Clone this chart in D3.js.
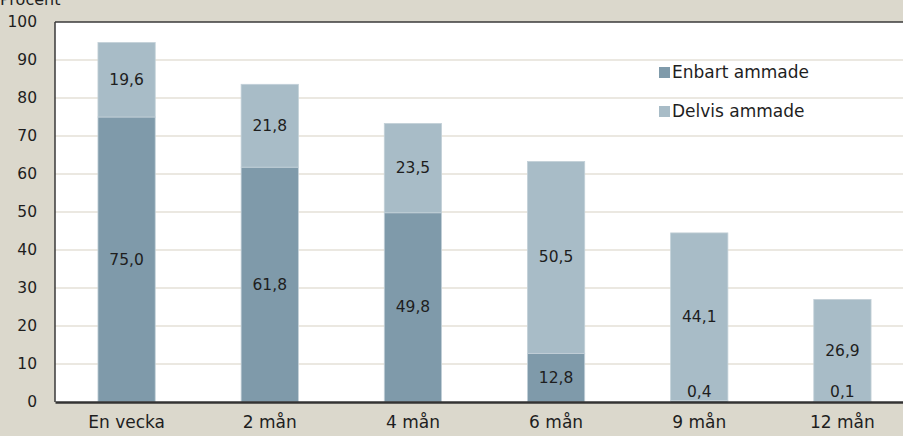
<!DOCTYPE html>
<html>
<head>
<meta charset="utf-8">
<script src="https://cdn.jsdelivr.net/npm/d3@7"></script>
<style>
  html, body { margin: 0; padding: 0; background: #DBD8CC; }
  svg { display: block; }
  text { font-family: "DejaVu Sans", sans-serif; fill: #1e1e1e; }
</style>
</head>
<body>
<svg id="chart" width="903" height="436"></svg>
<script>
// Andel ammade barn per ålder (procent)
const categories = ["En vecka", "2 mån", "4 mån", "6 mån", "9 mån", "12 mån"];
const enbart = [75.0, 61.8, 49.8, 12.8, 0.4, 0.1];
const delvis = [19.6, 21.8, 23.5, 50.5, 44.1, 26.9];
const seriesNames = ["Enbart ammade", "Delvis ammade"];
const seriesColors = ["#7F9AAA", "#A8BCC7"];
const yTicks = [0, 10, 20, 30, 40, 50, 60, 70, 80, 90, 100];

const svg = d3.select("#chart");
const W = 903, H = 436;
const m = { left: 55, top: 22, bottom: 34 };
const plotW = 859;            // the plot continues past the right edge of the view
const plotH = H - m.top - m.bottom;
const FONT = "'DejaVu Sans', sans-serif";

const rows = categories.map((c, i) => ({ cat: c, enbart: enbart[i], delvis: delvis[i] }));
const stacked = d3.stack().keys(["enbart", "delvis"])(rows);

const x = d3.scaleBand().domain(categories).range([m.left, m.left + plotW]).paddingInner(0.6).paddingOuter(0.3);
const y = d3.scaleLinear().domain([0, 100]).range([m.top + plotH, m.top]);

// plot area
svg.append("rect").attr("x", m.left).attr("y", m.top).attr("width", plotW).attr("height", plotH).attr("fill", "#fff");

// gridlines
svg.append("g").selectAll("line").data(yTicks.filter(t => t > 0 && t < 100)).join("line")
  .attr("x1", m.left).attr("x2", m.left + plotW)
  .attr("y1", d => y(d)).attr("y2", d => y(d))
  .attr("stroke", "#E4E1D7").attr("stroke-width", 1.5);

// bars
const layer = svg.append("g").selectAll("g").data(stacked).join("g")
  .attr("fill", (d, i) => seriesColors[i]);
layer.selectAll("rect").data(d => d).join("rect")
  .attr("x", d => x(d.data.cat))
  .attr("width", x.bandwidth())
  .attr("y", d => y(d[1]))
  .attr("height", d => y(d[0]) - y(d[1]))
  .attr("stroke", "#C3D0D8").attr("stroke-width", 0.8);

// value labels
const fmt = v => v.toFixed(1).replace(".", ",");
stacked.forEach(s => {
  svg.append("g").selectAll("text").data(s).join("text")
    .attr("x", d => x(d.data.cat) + x.bandwidth() / 2)
    .attr("y", d => Math.min((y(d[0]) + y(d[1])) / 2, y(0) - 10))
    .attr("text-anchor", "middle").attr("dominant-baseline", "central")
    .attr("font-size", 15.5)
    .text(d => fmt(d[1] - d[0]));
});

// frame: top and left borders
svg.append("line").attr("x1", m.left).attr("x2", W).attr("y1", m.top).attr("y2", m.top)
  .attr("stroke", "#3a3a3a").attr("stroke-width", 1.5);
svg.append("line").attr("x1", m.left).attr("x2", m.left).attr("y1", m.top).attr("y2", m.top + plotH)
  .attr("stroke", "#3a3a3a").attr("stroke-width", 1.5);

// y axis
const yAxis = svg.append("g").attr("transform", `translate(${m.left},0)`)
  .call(d3.axisLeft(y).tickValues(yTicks).tickSize(0).tickPadding(18));
yAxis.select(".domain").remove();
yAxis.selectAll("text").attr("font-size", 15.5).style("font-family", FONT).attr("fill", "#1e1e1e");

// x axis
const xAxis = svg.append("g").attr("transform", `translate(0,${y(0)})`)
  .call(d3.axisBottom(x).tickSize(0).tickPadding(14));
xAxis.select(".domain").attr("stroke", "#333").attr("stroke-width", 2.5);
xAxis.selectAll("text").attr("font-size", 17).style("font-family", FONT).attr("fill", "#1e1e1e");

// axis title, partly cut by the top edge
svg.append("text").attr("x", 0).attr("y", 5).attr("font-size", 16).text("Procent");

// legend
const leg = svg.append("g").selectAll("g").data(seriesNames).join("g")
  .attr("transform", (d, i) => `translate(659,${72 + i * 39})`);
leg.append("rect").attr("x", 0).attr("y", -5).attr("width", 11).attr("height", 11)
  .attr("fill", (d, i) => seriesColors[i]);
leg.append("text").attr("x", 13).attr("y", 0).attr("dominant-baseline", "central")
  .attr("font-size", 17).text(d => d);
</script>
</body>
</html>
